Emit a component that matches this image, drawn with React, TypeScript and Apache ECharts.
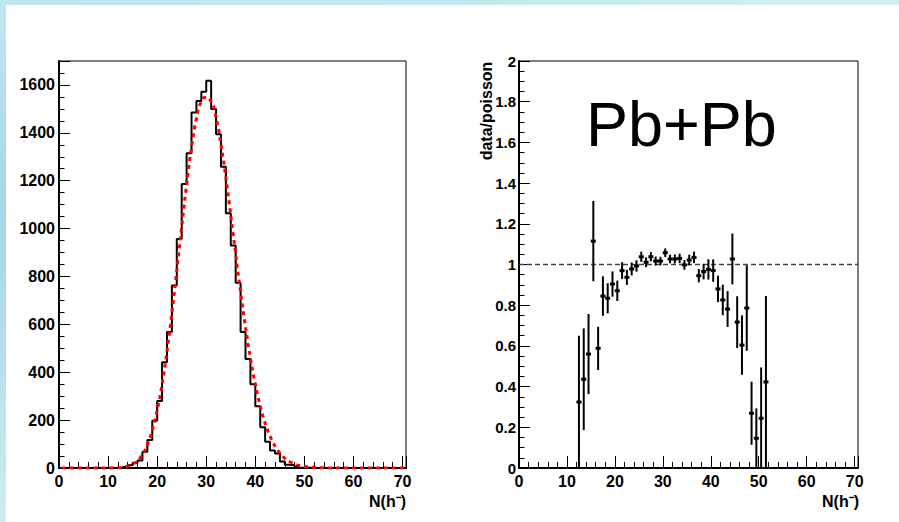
import React, { useEffect, useRef } from 'react';
import * as echarts from 'echarts';

// Left panel: multiplicity histogram, bins of width 1 starting at 0 (counts per bin)
const histBinStart = 0;
const histCounts = [
  0, 0, 0, 0, 0, 0, 0, 0, 0, 0, 0, 0,
  1, 4, 12, 22, 31, 68, 117, 197, 280, 442, 568, 762, 957, 1186, 1315, 1485, 1533, 1572,
  1617, 1499, 1394, 1258, 1064, 929, 774, 568, 455, 350, 258, 170, 110, 73, 61, 27, 14, 12,
  4, 1, 1, 1,
  0, 0, 0, 0, 0, 0, 0, 0, 0, 0, 0, 0, 0, 0, 0, 0, 0, 0, 0,
];
// Poisson reference curve, read at the bin centres
const poissonCurve = [
  0, 0, 0, 0, 0, 0, 0, 0, 0, 0, 0,
  1, 2, 5, 11, 22, 41, 73, 122, 192, 288, 412, 562, 733, 916, 1099, 1268, 1409, 1510, 1548,
  1548, 1512, 1417, 1288, 1137, 974, 812, 658, 520, 400, 300, 219, 157, 109, 75, 50, 32, 21,
  13, 8, 5, 3, 2, 1,
  0, 0, 0, 0, 0, 0, 0, 0, 0, 0, 0, 0, 0, 0, 0, 0, 0,
];

// Right panel: data / poisson ratio with errors
const ratioX = [
  12.5, 13.5, 14.5, 15.5, 16.5, 17.5, 18.5, 19.5, 20.5, 21.5,
  22.5, 23.5, 24.5, 25.5, 26.5, 27.5, 28.5, 29.5, 30.5, 31.5,
  32.5, 33.5, 34.5, 35.5, 36.5, 37.5, 38.5, 39.5, 40.5, 41.5,
  42.5, 43.5, 44.5, 45.5, 46.5, 47.5, 48.5, 49.5, 50.5, 51.5,
];
const ratioVal = [
  0.324, 0.436, 0.56, 1.115, 0.588, 0.845, 0.834, 0.904, 0.871, 0.97,
  0.937, 0.978, 0.993, 1.038, 1.011, 1.038, 1.017, 1.017, 1.058, 1.027,
  1.027, 1.03, 0.998, 1.022, 1.035, 0.945, 0.965, 0.976, 0.97, 0.88,
  0.826, 0.781, 1.027, 0.717, 0.604, 0.786, 0.269, 0.146, 0.244, 0.423,
];
const ratioErr = [
  0.326, 0.25, 0.197, 0.197, 0.106, 0.097, 0.074, 0.062, 0.05, 0.041,
  0.037, 0.032, 0.028, 0.025, 0.024, 0.023, 0.022, 0.021, 0.021, 0.021,
  0.022, 0.023, 0.024, 0.026, 0.028, 0.033, 0.038, 0.05, 0.055, 0.065,
  0.075, 0.088, 0.125, 0.127, 0.146, 0.21, 0.155, 0.147, 0.25, 0.422,
];
const referenceLevel = 1;

const xTickLabels = ['0', '10', '20', '30', '40', '50', '60', '70'];
const xTitle = 'N(h\u207B)';
const yTitleRight = 'data/poisson';
const panelText = 'Pb+Pb';

const FONT = '"Liberation Sans", Arial, Helvetica, sans-serif';
const X_MAX = 70.7;

export default function App() {
  const ref = useRef<HTMLDivElement>(null);

  useEffect(() => {
    if (!ref.current) return;
    const chart = echarts.init(ref.current, null, { renderer: 'svg' });

    const histData: number[][] = histCounts.map((v, i) => [histBinStart + i, v]);
    histData.push([histBinStart + histCounts.length, 0]);
    const poisData = poissonCurve.map((v, i) => [histBinStart + i + 0.5, v]);
    const ratioData = ratioX.map((x, i) => [
      x,
      ratioVal[i],
      Math.max(0, ratioVal[i] - ratioErr[i]),
      ratioVal[i] + ratioErr[i],
    ]);

    const labelStyle = {
      color: '#000',
      fontWeight: 'bold' as const,
      fontSize: 16,
      fontFamily: FONT,
    };

    const majorX = (grid: number) => ({
      type: 'value',
      gridIndex: grid,
      position: 'bottom',
      min: 0,
      max: X_MAX,
      interval: 10,
      axisLine: { show: true, onZero: false, lineStyle: { color: '#000', width: 2 } },
      axisTick: { show: true, inside: true, length: 12, lineStyle: { color: '#000', width: 1 } },
      axisLabel: {
        ...labelStyle,
        margin: 5,
        formatter: (v: number) => (xTickLabels.includes(String(v)) ? String(v) : ''),
      },
      splitLine: { show: false },
    });
    const minorX = (grid: number) => ({
      type: 'value',
      gridIndex: grid,
      position: 'bottom',
      min: 0,
      max: X_MAX,
      interval: 2,
      axisLine: { show: false },
      axisTick: { show: true, inside: true, length: 6, lineStyle: { color: '#000', width: 1 } },
      axisLabel: { show: false },
      splitLine: { show: false },
    });
    const majorY = (grid: number, max: number, interval: number, margin: number, size: number, fmt?: (v: number) => string) => ({
      type: 'value',
      gridIndex: grid,
      position: 'left',
      min: 0,
      max,
      interval,
      axisLine: { show: true, onZero: false, lineStyle: { color: '#000', width: 2 } },
      axisTick: { show: true, inside: true, length: 11, lineStyle: { color: '#000', width: 1 } },
      axisLabel: { ...labelStyle, fontSize: size, margin, ...(fmt ? { formatter: fmt } : {}) },
      splitLine: { show: false },
    });
    const minorY = (grid: number, max: number, interval: number) => ({
      type: 'value',
      gridIndex: grid,
      position: 'left',
      min: 0,
      max,
      interval,
      axisLine: { show: false },
      axisTick: { show: true, inside: true, length: 5.5, lineStyle: { color: '#000', width: 1 } },
      axisLabel: { show: false },
      splitLine: { show: false },
    });

    const option: any = {
      animation: false,
      backgroundColor: '#ffffff',
      textStyle: { fontFamily: FONT },
      grid: [
        { left: 59, top: 61, width: 347, height: 407, show: true, borderColor: '#000', borderWidth: 1, backgroundColor: 'transparent' },
        { left: 519, top: 61, width: 339, height: 407, show: true, borderColor: '#000', borderWidth: 1, backgroundColor: 'transparent' },
      ],
      xAxis: [majorX(0), minorX(0), majorX(1), minorX(1)],
      yAxis: [
        majorY(0, 1700, 200, 4, 16, (v: number) => (v % 200 === 0 ? String(v) : '')),
        minorY(0, 1700, 50),
        majorY(1, 2, 0.2, 3, 15),
        minorY(1, 2, 0.05),
      ],
      series: [
        {
          type: 'line',
          xAxisIndex: 0,
          yAxisIndex: 0,
          data: histData,
          step: 'end',
          symbol: 'none',
          clip: true,
          lineStyle: { color: '#000', width: 2 },
          z: 3,
        },
        {
          type: 'line',
          xAxisIndex: 0,
          yAxisIndex: 0,
          data: poisData,
          symbol: 'none',
          clip: true,
          lineStyle: { color: '#ff0000', width: 3, type: [4, 4] },
          z: 4,
        },
        {
          type: 'line',
          xAxisIndex: 2,
          yAxisIndex: 2,
          data: [[0, referenceLevel], [X_MAX, referenceLevel]],
          symbol: 'none',
          lineStyle: { color: '#444', width: 1.4, type: [5, 3] },
          z: 2,
        },
        {
          type: 'custom',
          xAxisIndex: 2,
          yAxisIndex: 2,
          clip: true,
          encode: { x: 0, y: 1 },
          data: ratioData,
          z: 5,
          renderItem: (params: any, api: any) => {
            const x = api.value(0);
            const y = api.value(1);
            const pLo = api.coord([x, api.value(2)]);
            const pHi = api.coord([x, api.value(3)]);
            const p = api.coord([x, y]);
            return {
              type: 'group',
              children: [
                {
                  type: 'line',
                  shape: { x1: pLo[0], y1: pLo[1], x2: pHi[0], y2: pHi[1] },
                  style: { stroke: '#000', lineWidth: 2 },
                },
                {
                  type: 'rect',
                  shape: { x: p[0] - 2.5, y: p[1] - 1.5, width: 5, height: 3 },
                  style: { fill: '#000' },
                },
              ],
            };
          },
        },
      ],
      graphic: [
        {
          type: 'rect',
          shape: { x: 0, y: 0, width: 899, height: 5 },
          style: {
            fill: new echarts.graphic.LinearGradient(0, 0, 1, 0, [
              { offset: 0, color: '#bde6ee' },
              { offset: 0.5, color: '#c5e9f0' },
              { offset: 1, color: '#d3eff4' },
            ]),
          },
          silent: true,
          z: -10,
        },
        {
          type: 'rect',
          shape: { x: 0, y: 0, width: 6, height: 522 },
          style: {
            fill: new echarts.graphic.LinearGradient(0, 0, 0, 1, [
              { offset: 0, color: '#c0e7ef' },
              { offset: 0.4, color: '#a9d5e6' },
              { offset: 0.7, color: '#b8e0ea' },
              { offset: 1, color: '#cfecf0' },
            ]),
          },
          silent: true,
          z: -10,
        },
        {
          type: 'text',
          x: 586,
          y: 124,
          style: {
            text: panelText,
            fontSize: 63,
            fontFamily: FONT,
            fontWeight: 'normal',
            fill: '#000',
            align: 'left',
            verticalAlign: 'middle',
          },
        },
        {
          type: 'text',
          x: 486,
          y: 111,
          rotation: Math.PI / 2,
          style: {
            text: yTitleRight,
            fontSize: 16,
            fontFamily: FONT,
            fontWeight: 'bold',
            fill: '#000',
            align: 'center',
            verticalAlign: 'middle',
          },
        },
        {
          type: 'text',
          x: 406,
          y: 501,
          style: {
            text: xTitle,
            fontSize: 16,
            fontFamily: FONT,
            fontWeight: 'bold',
            fill: '#000',
            align: 'right',
            verticalAlign: 'middle',
          },
        },
        {
          type: 'text',
          x: 859,
          y: 501,
          style: {
            text: xTitle,
            fontSize: 16,
            fontFamily: FONT,
            fontWeight: 'bold',
            fill: '#000',
            align: 'right',
            verticalAlign: 'middle',
          },
        },
      ],
    };

    chart.setOption(option);
    return () => {
      chart.dispose();
    };
  }, []);

  return (
    <div
      ref={ref}
      style={{ position: 'absolute', left: 0, top: 0, width: 899, height: 522 }}
    />
  );
}
